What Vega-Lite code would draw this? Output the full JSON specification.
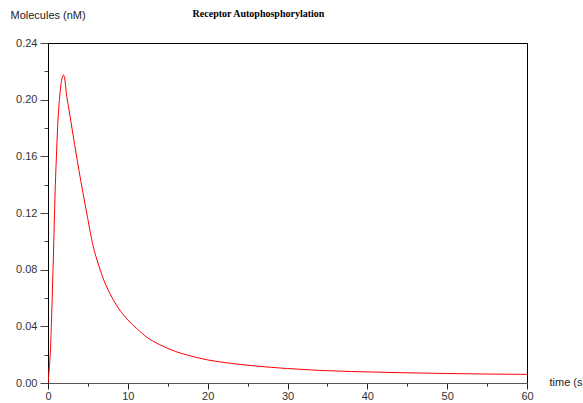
{
  "$schema": "https://vega.github.io/schema/vega-lite/v6.json",
  "width": 479,
  "height": 340,
  "autosize": {"type": "none"},
  "padding": {"left": 48, "top": 43, "right": 56, "bottom": 20},
  "background": "white",
  "title": {
    "text": "Receptor Autophosphorylation",
    "font": "Liberation Serif",
    "fontWeight": "bold",
    "fontSize": 10,
    "color": "#000",
    "anchor": "middle",
    "frame": "group",
    "dx": -29,
    "dy": 15,
    "offset": 0,
    "baseline": "middle"
  },
  "config": {
    "view": {"stroke": "#000", "strokeWidth": 1},
    "axis": {
      "labelFont": "Liberation Sans",
      "labelFontSize": 11,
      "labelColor": "#333",
      "titleFont": "Liberation Sans",
      "titleFontSize": 11,
      "titleFontWeight": "normal",
      "titleColor": "#222",
      "grid": false
    }
  },
  "data": {
    "values": [
      {"t": 0, "v": 0},
      {"t": 0.15, "v": 0.01},
      {"t": 0.33, "v": 0.026},
      {"t": 0.46, "v": 0.048},
      {"t": 0.59, "v": 0.072},
      {"t": 0.75, "v": 0.105},
      {"t": 0.92, "v": 0.14},
      {"t": 1.04, "v": 0.158},
      {"t": 1.21, "v": 0.181},
      {"t": 1.5, "v": 0.2045},
      {"t": 1.7, "v": 0.2135},
      {"t": 1.92, "v": 0.2174},
      {"t": 2.1, "v": 0.2145},
      {"t": 2.3, "v": 0.2045},
      {"t": 2.6, "v": 0.194},
      {"t": 3.0, "v": 0.18},
      {"t": 3.67, "v": 0.157},
      {"t": 4.1, "v": 0.143},
      {"t": 4.85, "v": 0.12},
      {"t": 5.68, "v": 0.096},
      {"t": 6.3, "v": 0.084},
      {"t": 6.93, "v": 0.0735},
      {"t": 7.5, "v": 0.066},
      {"t": 8, "v": 0.0605},
      {"t": 8.8, "v": 0.053},
      {"t": 10, "v": 0.0445},
      {"t": 11.1, "v": 0.0385},
      {"t": 12.5, "v": 0.0318},
      {"t": 14, "v": 0.027},
      {"t": 16, "v": 0.0222},
      {"t": 18, "v": 0.0189},
      {"t": 20, "v": 0.0163},
      {"t": 23, "v": 0.0138},
      {"t": 26, "v": 0.012},
      {"t": 30, "v": 0.0102},
      {"t": 34, "v": 0.0089},
      {"t": 38, "v": 0.0081},
      {"t": 44, "v": 0.0073},
      {"t": 50, "v": 0.0067},
      {"t": 55, "v": 0.0063},
      {"t": 60, "v": 0.0061}
    ]
  },
  "mark": {"type": "line", "color": "#ff0000", "strokeWidth": 1, "interpolate": "monotone", "clip": true},
  "encoding": {
    "x": {
      "field": "t",
      "type": "quantitative",
      "scale": {"domain": [0, 60], "nice": false, "zero": false},
      "axis": {
        "title": "time (s)",
        "values": [0, 5, 10, 15, 20, 25, 30, 35, 40, 45, 50, 55, 60],
        "labelExpr": "datum.value % 10 === 0 ? datum.label : ''",
        "tickSize": {"condition": {"test": "datum.value % 10 === 0", "value": 6}, "value": 3},
        "tickColor": "#222",
        "domainColor": "#555",
        "labelPadding": 1,
        "labelFlush": false,
        "labelOverlap": false,
        "titleAngle": 0,
        "titleAlign": "left",
        "titleBaseline": "middle",
        "titleX": 501,
        "titleY": -1
      }
    },
    "y": {
      "field": "v",
      "type": "quantitative",
      "scale": {"domain": [0, 0.24], "nice": false},
      "axis": {
        "title": "Molecules (nM)",
        "values": [0, 0.02, 0.04, 0.06, 0.08, 0.1, 0.12, 0.14, 0.16, 0.18, 0.2, 0.22, 0.24],
        "format": ".2f",
        "labelExpr": "round(datum.value * 100) % 4 === 0 ? datum.label : ''",
        "tickSize": {"condition": {"test": "round(datum.value * 100) % 4 === 0", "value": 8}, "value": 4},
        "tickColor": "#444",
        "domainColor": "#000",
        "labelPadding": 3,
        "labelFlush": false,
        "labelOverlap": false,
        "titleAngle": 0,
        "titleAlign": "left",
        "titleBaseline": "middle",
        "titleX": -38,
        "titleY": -28
      }
    }
  }
}
